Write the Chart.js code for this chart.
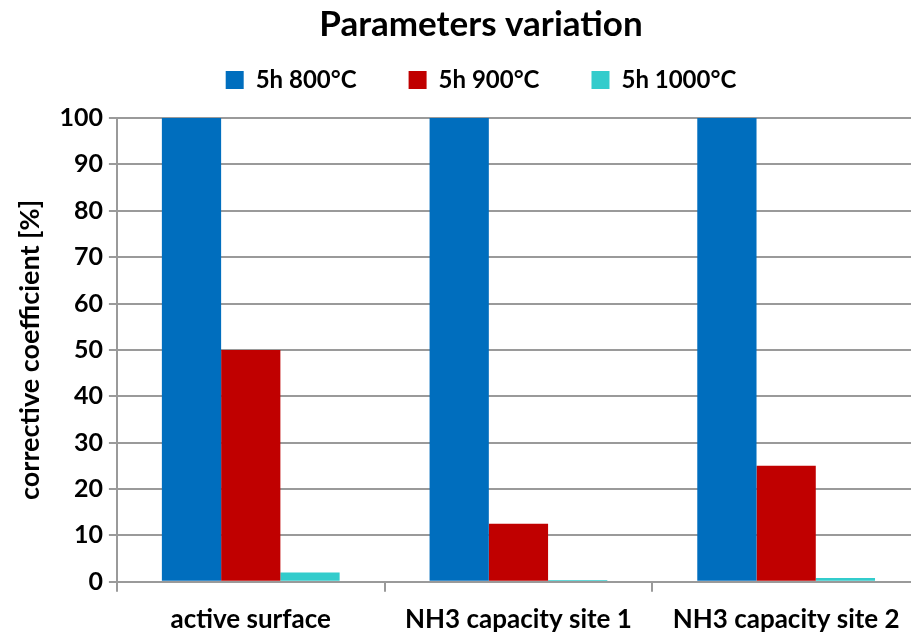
<!DOCTYPE html>
<html>
<head>
<meta charset="utf-8">
<script src="https://cdn.jsdelivr.net/npm/chart.js@4"></script>
<style>
  html, body { margin: 0; padding: 0; background: #fff; overflow: hidden; }
  #wrap { width: 911px; height: 634px; overflow: hidden; }
</style>
</head>
<body>
<div id="wrap">
  <canvas id="paramChart" width="962" height="634"></canvas>
</div>
<script>
// data
const categories = ['active surface', 'NH3 capacity site 1', 'NH3 capacity site 2'];
const series800 = [100, 100, 100];
const series900 = [50, 12.5, 25];
const series1000 = [2, 0.4, 0.8];
const seriesLabels = ['5h 800°C', '5h 900°C', '5h 1000°C'];
const seriesColors = ['#006EBE', '#C00000', '#33CCCC'];

const font = 'Lato, "Open Sans", sans-serif';
const gridGrey = '#9a9a9a';

const chart = new Chart(document.getElementById('paramChart'), {
    type: 'bar',
    data: {
        labels: categories,
        datasets: [series800, series900, series1000].map((d, i) => ({
            label: seriesLabels[i],
            data: d,
            backgroundColor: seriesColors[i],
            borderWidth: 0,
            categoryPercentage: 0.664,
            barPercentage: 1.0
        }))
    },
    options: {
        responsive: false,
        animation: false,
        layout: { padding: { left: 42, right: 42, top: 0, bottom: -13 } },
        plugins: {
            title: {
                display: true,
                text: 'Parameters variation',
                color: '#000',
                font: { family: font, size: 35, weight: 'bold' },
                padding: { top: 4, bottom: -30 }
            },
            legend: {
                position: 'top',
                labels: {
                    color: '#000',
                    font: { family: font, size: 24, weight: 'bold' },
                    boxWidth: 18,
                    boxHeight: 18,
                    padding: 52
                }
            },
            tooltip: { enabled: false }
        },
        scales: {
            x: {
                grid: {
                    offset: true,
                    drawOnChartArea: false,
                    drawTicks: true,
                    tickLength: 10,
                    color: gridGrey,
                    lineWidth: 2
                },
                border: { color: gridGrey, width: 2 },
                ticks: {
                    color: '#000',
                    font: { family: font, size: 26, weight: 'bold' },
                    padding: 12
                }
            },
            y: {
                min: 0,
                max: 100,
                ticks: {
                    stepSize: 10,
                    color: '#000',
                    font: { family: font, size: 25, weight: 'bold' },
                    padding: 6
                },
                grid: {
                    color: gridGrey,
                    lineWidth: 2,
                    tickLength: 8
                },
                border: { color: gridGrey, width: 2 },
                title: {
                    display: true,
                    text: 'corrective coefficient [%]',
                    color: '#000',
                    font: { family: font, size: 27, weight: 'bold' },
                    padding: { top: -28, bottom: 7 }
                }
            }
        }
    }
});

// a bit more room under the legend, as in the original
const legendFit = chart.legend.fit;
chart.legend.fit = function () {
    legendFit.call(this);
    this.height += 16;
};
chart.update();
</script>
</body>
</html>
